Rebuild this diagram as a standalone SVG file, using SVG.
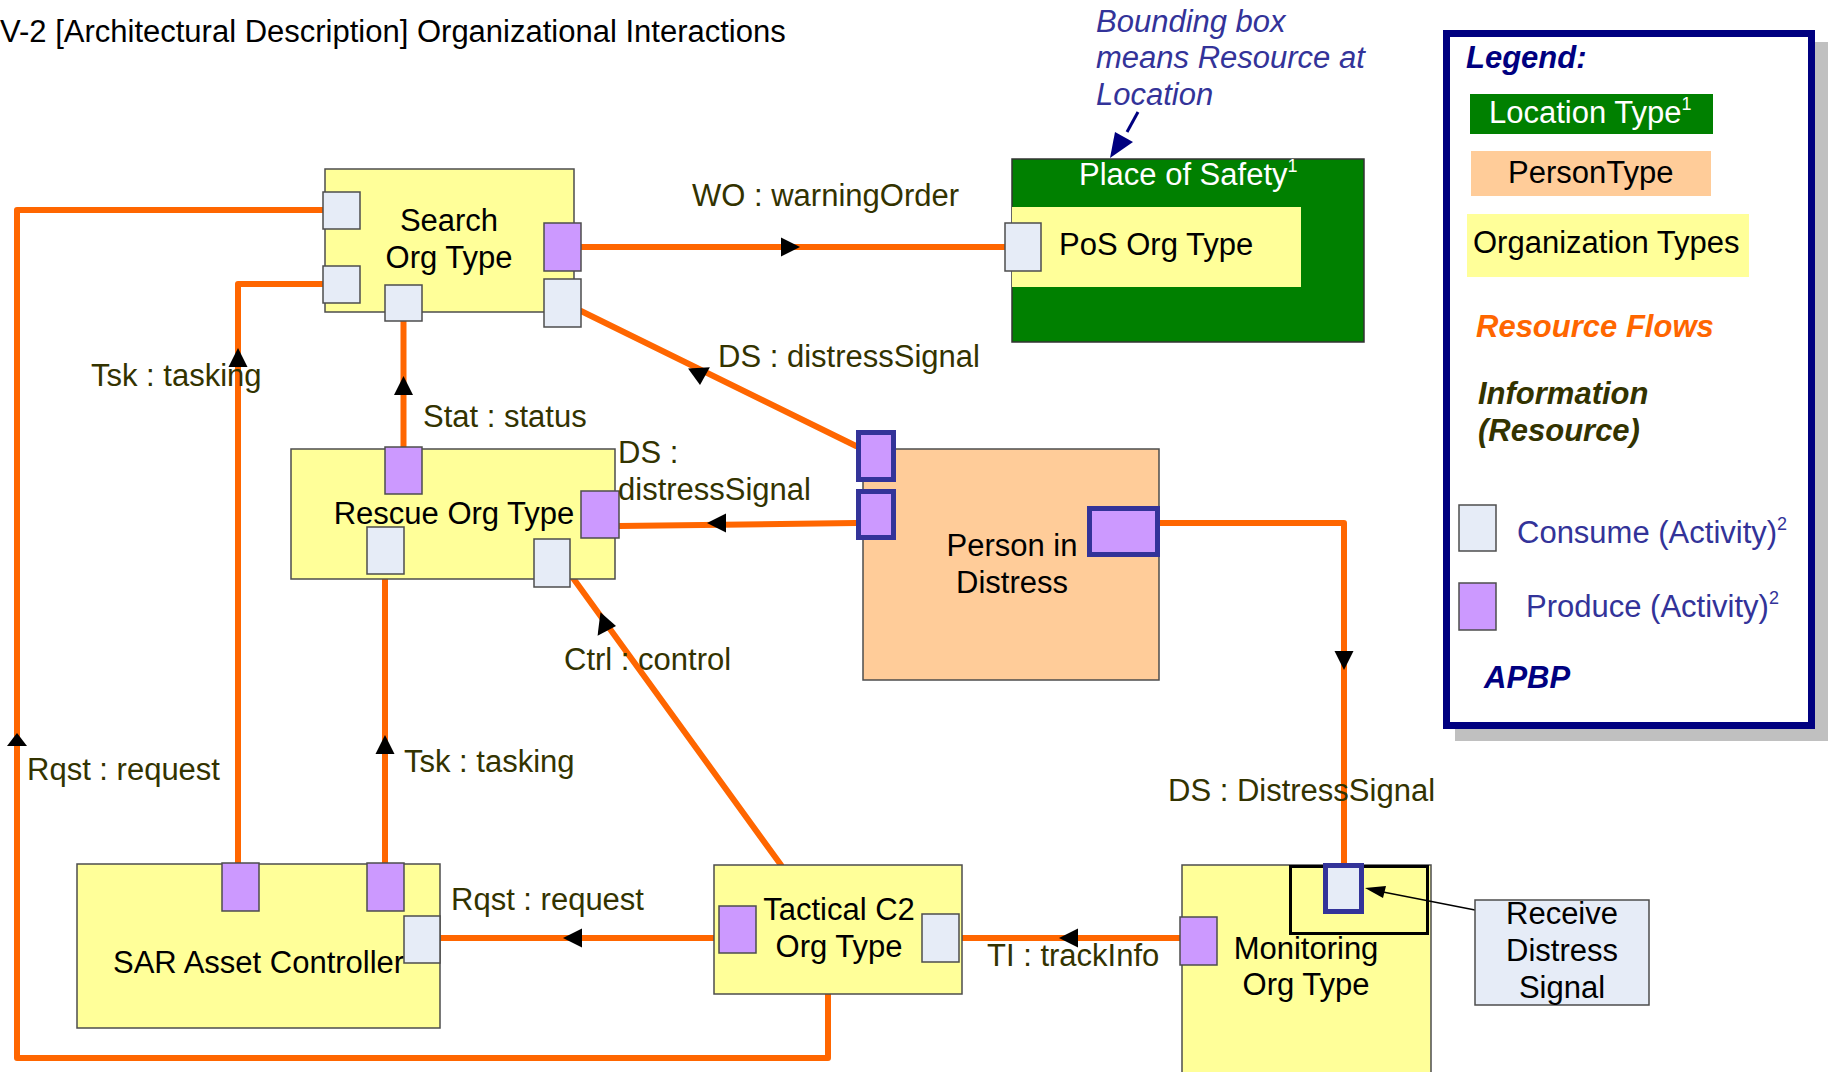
<svg xmlns="http://www.w3.org/2000/svg" xmlns:xlink="http://www.w3.org/1999/xlink" width="1832" height="1072" viewBox="0 0 1832 1072">
<style>
.t{font-family:"Liberation Sans",Arial,sans-serif;font-size:31px;fill:#000}
.m{text-anchor:middle}
.lb{fill:#333300}
.n{fill:#ffff99;stroke:#4d4d4d;stroke-width:1.5}
.c{fill:#e6ecf7;stroke:#4d4d4d;stroke-width:1.5}
.p{fill:#cc99ff;stroke:#4d4d4d;stroke-width:1.5}
.pp{fill:#cc99ff;stroke:#333399;stroke-width:5}
.cp{fill:#e6ecf7;stroke:#333399;stroke-width:5}
.f{fill:none;stroke:#ff6600;stroke-width:6;stroke-linejoin:round;stroke-linecap:round}
.bi{font-weight:bold;font-style:italic}
</style>
<defs>
<path id="ah" d="M0,0 L-19,-9.5 L-19,9.5 Z" fill="#000"/>
</defs>
<rect width="1832" height="1072" fill="#fff"/>
<text class="t" x="0" y="42" font-size="31.3">V-2 [Architectural Description] Organizational Interactions</text>

<g id="connectors">
<path class="f" d="M323,210 H17 V1058 H828 V994"/>
<path class="f" d="M238,863 V284 H323"/>
<path class="f" d="M403.5,447 V321"/>
<path class="f" d="M581,247 H1005"/>
<path class="f" d="M856,446 L581,311"/>
<path class="f" d="M856,523 L619,526"/>
<path class="f" d="M385,863 V574"/>
<path class="f" d="M781,865 L573,578"/>
<path class="f" d="M719,938 H440"/>
<path class="f" d="M1180,938 H959"/>
<path class="f" d="M1160,523 H1344 V863"/>
<use xlink:href="#ah" href="#ah" transform="translate(238,348) rotate(-90)"/>
<use xlink:href="#ah" href="#ah" transform="translate(403.5,376) rotate(-90)"/>
<use xlink:href="#ah" href="#ah" transform="translate(800,247)"/>
<use xlink:href="#ah" href="#ah" transform="translate(700,385) rotate(86.5) scale(0.9,1.15)"/>
<use xlink:href="#ah" href="#ah" transform="translate(707,523) rotate(180)"/>
<use xlink:href="#ah" href="#ah" transform="translate(385,735) rotate(-90)"/>
<polygon points="17,733 7,746 27,746" fill="#000"/>
<use xlink:href="#ah" href="#ah" transform="translate(616,626) rotate(7) scale(0.9,1.25)"/>
<use xlink:href="#ah" href="#ah" transform="translate(563,938) rotate(180)"/>
<use xlink:href="#ah" href="#ah" transform="translate(1059,938) rotate(180)"/>
<use xlink:href="#ah" href="#ah" transform="translate(1344,670) rotate(90)"/>
</g>

<g id="search">
<rect class="n" x="325" y="169" width="249" height="143"/>
<text class="t m" x="449" y="231">Search</text>
<text class="t m" x="449" y="268">Org Type</text>
<rect class="c" x="323" y="192" width="37" height="37"/>
<rect class="c" x="323" y="266" width="37" height="37"/>
<rect class="c" x="385" y="285" width="37" height="36"/>
<rect class="p" x="544" y="223" width="37" height="48"/>
<rect class="c" x="544" y="279" width="37" height="48"/>
</g>

<g id="rescue">
<rect class="n" x="291" y="449" width="324" height="130"/>
<text class="t m" x="454" y="524">Rescue Org Type</text>
<rect class="p" x="385" y="447" width="37" height="47"/>
<rect class="p" x="581" y="491" width="38" height="47"/>
<rect class="c" x="367" y="527" width="37" height="47"/>
<rect class="c" x="534" y="539" width="36" height="48"/>
</g>

<g id="place-of-safety">
<rect x="1012" y="159" width="352" height="183" fill="#008000" stroke="#333" stroke-width="1.5"/>
<rect x="1012" y="207" width="289" height="80" fill="#ffff99"/>
<text class="t" x="1079" y="185" style="fill:#fff">Place of Safety<tspan font-size="18" dy="-13">1</tspan></text>
<text class="t" x="1059" y="255">PoS Org Type</text>
<rect class="c" x="1005" y="223" width="36" height="48"/>
</g>

<g id="annotation">
<text class="t" x="1096" y="32" style="fill:#333399;font-style:italic">Bounding box</text>
<text class="t" x="1096" y="68" style="fill:#333399;font-style:italic">means Resource at</text>
<text class="t" x="1096" y="105" style="fill:#333399;font-style:italic">Location</text>
<line x1="1138" y1="112" x2="1127" y2="132" stroke="#000080" stroke-width="3"/>
<polygon points="1110,158 1115,132 1133,142" fill="#000080"/>
</g>

<g id="person">
<rect x="863" y="449" width="296" height="231" fill="#ffcc99" stroke="#4d4d4d" stroke-width="1.5"/>
<text class="t m" x="1012" y="556">Person in</text>
<text class="t m" x="1012" y="593">Distress</text>
<rect class="pp" x="858.5" y="432.5" width="35" height="47"/>
<rect class="pp" x="858.5" y="491.5" width="35" height="46"/>
<rect class="pp" x="1089.5" y="508.5" width="68" height="46"/>
</g>

<g id="sar">
<rect class="n" x="77" y="864" width="363" height="164"/>
<text class="t" x="113" y="973">SAR Asset Controller</text>
<rect class="p" x="222" y="863" width="37" height="48"/>
<rect class="p" x="367" y="863" width="37" height="48"/>
<rect class="c" x="404" y="916" width="36" height="47"/>
</g>

<g id="tactical">
<rect class="n" x="714" y="865" width="248" height="129"/>
<text class="t m" x="839" y="920">Tactical C2</text>
<text class="t m" x="839" y="957">Org Type</text>
<rect class="p" x="719" y="906" width="37" height="47"/>
<rect class="c" x="922" y="914" width="37" height="48"/>
</g>

<g id="monitoring">
<rect class="n" x="1182" y="865" width="249" height="220"/>
<rect x="1290.5" y="866.5" width="137" height="67" fill="none" stroke="#000" stroke-width="3"/>
<text class="t m" x="1306" y="959">Monitoring</text>
<text class="t m" x="1306" y="995">Org Type</text>
<rect class="p" x="1180" y="917" width="37" height="48"/>
<rect class="cp" x="1325.5" y="865.5" width="36" height="46"/>
</g>

<g id="receive-distress-signal">
<line x1="1475" y1="910" x2="1383" y2="892" stroke="#000" stroke-width="1.3"/>
<polygon points="1365,888 1386,886 1383,898" fill="#000"/>
<rect x="1475" y="900" width="174" height="105" fill="#e6ecf7" stroke="#4d4d4d" stroke-width="1.5"/>
<text class="t m" x="1562" y="924">Receive</text>
<text class="t m" x="1562" y="961">Distress</text>
<text class="t m" x="1562" y="998">Signal</text>
</g>

<g id="labels">
<text class="t lb" x="692" y="206">WO : warningOrder</text>
<text class="t lb" x="718" y="367">DS : distressSignal</text>
<text class="t lb" x="91" y="386">Tsk : tasking</text>
<text class="t lb" x="423" y="427">Stat : status</text>
<text class="t lb" x="618" y="463">DS :</text>
<text class="t lb" x="618" y="500">distressSignal</text>
<text class="t lb" x="564" y="670">Ctrl : control</text>
<text class="t lb" x="404" y="772">Tsk : tasking</text>
<text class="t lb" x="27" y="780">Rqst : request</text>
<text class="t lb" x="451" y="910">Rqst : request</text>
<text class="t lb" x="987" y="966">TI : trackInfo</text>
<text class="t lb" x="1168" y="801">DS : DistressSignal</text>
</g>

<g id="legend">
<rect x="1455" y="42" width="373" height="699" fill="#c0c0c0"/>
<rect x="1446.5" y="33.5" width="365" height="692" fill="#fff" stroke="#000080" stroke-width="7"/>
<text class="t bi" x="1466" y="68" style="fill:#000080">Legend:</text>
<rect x="1470" y="94" width="243" height="40" fill="#008000"/>
<text class="t" x="1489" y="123" style="fill:#fff">Location Type<tspan font-size="18" dy="-13">1</tspan></text>
<rect x="1471" y="151" width="240" height="45" fill="#ffcc99"/>
<text class="t" x="1508" y="183">PersonType</text>
<rect x="1467" y="214" width="282" height="63" fill="#ffff99"/>
<text class="t" x="1473" y="253">Organization Types</text>
<text class="t bi" x="1476" y="337" style="fill:#ff6600">Resource Flows</text>
<text class="t bi" x="1478" y="404" style="fill:#333300">Information</text>
<text class="t bi" x="1478" y="441" style="fill:#333300">(Resource)</text>
<rect class="c" x="1459" y="505" width="37" height="46"/>
<text class="t" x="1517" y="543" style="fill:#333399">Consume (Activity)<tspan font-size="18" dy="-13">2</tspan></text>
<rect class="p" x="1459" y="583" width="37" height="47"/>
<text class="t" x="1526" y="617" style="fill:#333399">Produce (Activity)<tspan font-size="18" dy="-13">2</tspan></text>
<text class="t bi" x="1484" y="688" style="fill:#000080">APBP</text>
</g>
</svg>
